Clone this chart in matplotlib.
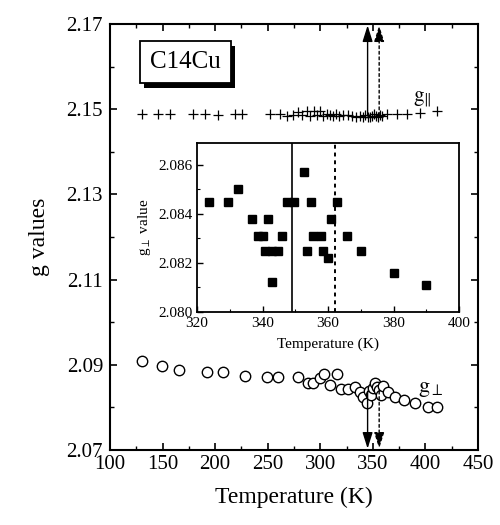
import matplotlib
matplotlib.use("Agg")
import matplotlib.pyplot as plt
import matplotlib.patheffects as pe

plt.rcParams['font.family'] = ['Liberation Serif', 'DejaVu Serif']
plt.rcParams['mathtext.fontset'] = 'stix'

# g parallel (crosses)
t_par = [130, 146, 157, 179, 190, 203, 219, 226, 252, 262, 268, 274, 279, 283,
         287, 290, 294, 297, 300, 303, 306, 309, 312, 315, 318, 322, 326, 330,
         334, 338, 341, 343, 345, 347, 349, 351, 353, 355, 357, 359, 363, 373,
         382, 395, 411]
g_par = [2.1490, 2.1488, 2.1488, 2.1488, 2.1488, 2.1487, 2.1488, 2.1488, 2.1490,
         2.1488, 2.1485, 2.1487, 2.1494, 2.1486, 2.1495, 2.1485, 2.1496, 2.1487,
         2.1495, 2.1484, 2.1488, 2.1486, 2.1485, 2.1488, 2.1484, 2.1486, 2.1487,
         2.1485, 2.1483, 2.1484, 2.1482, 2.1486, 2.1481, 2.1483, 2.1485, 2.1488,
         2.1484, 2.1482, 2.1486, 2.1484, 2.1488, 2.1489, 2.1488, 2.1491, 2.1497]

# g perpendicular (open circles)
t_perp = [130, 149, 166, 192, 207, 228, 249, 260, 279, 288, 293, 300, 304, 309,
          316, 320, 326, 333, 338, 341, 344, 346, 348, 350, 352, 354, 356, 358,
          360, 364, 371, 380, 390, 402, 411]
g_perp = [2.0910, 2.0898, 2.0888, 2.0884, 2.0884, 2.0874, 2.0872, 2.0872, 2.0872,
          2.0857, 2.0858, 2.0869, 2.0878, 2.0853, 2.0878, 2.0843, 2.0843, 2.0848,
          2.0836, 2.0825, 2.0811, 2.0838, 2.0830, 2.0845, 2.0857, 2.0848, 2.0840,
          2.0830, 2.0850, 2.0836, 2.0825, 2.0818, 2.0811, 2.0800, 2.0800]

# inset: g perpendicular near transition
t_ins = [323.7, 329.6, 332.6, 336.7, 341.6, 338.7, 340.2, 345.9, 340.8, 342.8,
         344.8, 342.9, 347.4, 349.6, 352.7, 354.7, 353.7, 355.5, 358.0, 358.6,
         360.1, 360.8, 362.8, 365.9, 370.0, 380.0, 390.0]
g_ins = [2.0845, 2.0845, 2.0850, 2.0838, 2.0838, 2.0831, 2.0831, 2.0831, 2.0825,
         2.0825, 2.0825, 2.0812, 2.0845, 2.0845, 2.0857, 2.0845, 2.0825, 2.0831,
         2.0831, 2.0825, 2.0822, 2.0838, 2.0845, 2.0831, 2.0825, 2.0816, 2.0811]

t_solid = 345
t_dash = 356
t_solid_ins = 349
t_dash_ins = 362

fig = plt.figure(figsize=(5.0, 5.25), dpi=100)
ax = fig.add_axes([0.22, 0.143, 0.736, 0.811])

ax.plot(t_par, g_par, ls='none', marker='+', ms=7, mew=0.9, color='black')
ax.plot(t_perp, g_perp, ls='none', marker='o', ms=7.5, mew=1.0,
        mfc='white', mec='black')

# arrows: up from the g-parallel branch, down from the g-perp branch
head = '-|>,head_length=0.7,head_width=0.22'
for t, ls in [(t_solid, '-'), (t_dash, (0, (2, 2)))]:
    ax.annotate('', xy=(t, 2.1697), xytext=(t, 2.1486),
                arrowprops=dict(arrowstyle=head, lw=1.0, ls=ls, color='black',
                                mutation_scale=14, shrinkA=0, shrinkB=0))
    ax.annotate('', xy=(t, 2.0703), xytext=(t, 2.0838),
                arrowprops=dict(arrowstyle=head, lw=1.0, ls=ls, color='black',
                                mutation_scale=14, shrinkA=0, shrinkB=0))

ax.set_xlim(100, 450)
ax.set_ylim(2.07, 2.17)
ax.set_xticks([100, 150, 200, 250, 300, 350, 400, 450])
ax.set_yticks([2.07, 2.09, 2.11, 2.13, 2.15, 2.17])
ax.set_xticks([125, 175, 225, 275, 325, 375, 425], minor=True)
ax.set_yticks([2.08, 2.10, 2.12, 2.14, 2.16], minor=True)
ax.tick_params(which='both', direction='in', top=True, right=True, labelsize=15)
ax.tick_params(axis='x', pad=4)
ax.tick_params(axis='y', pad=5)
ax.tick_params(which='major', length=5, width=1.2)
ax.tick_params(which='minor', length=3, width=1.0)
for s in ax.spines.values():
    s.set_linewidth(1.5)
ax.set_xlabel('Temperature (K)', fontsize=17, labelpad=9)
ax.set_ylabel('g values', fontsize=17, labelpad=12)

ax.text(397, 2.1524, r'$\mathrm{g}_{\Vert}$', fontsize=15, ha='center', va='center')
ax.text(405, 2.0841, r'$\mathrm{g}_{\perp}$', fontsize=16, ha='center', va='center')

# label box with a drop shadow
lab = ax.text(172, 2.161, 'C14Cu', fontsize=18, ha='center', va='center',
              bbox=dict(boxstyle='square,pad=0.4', fc='white', ec='black', lw=1.3))
lab.get_bbox_patch().set_path_effects([
    pe.SimplePatchShadow(offset=(3, -3), shadow_rgbFace='black', alpha=1.0),
    pe.Normal()])

# inset
ins = fig.add_axes([0.394, 0.406, 0.524, 0.322])
ins.plot(t_ins, g_ins, ls='none', marker='s', ms=6, color='black')
ins.axvline(t_solid_ins, color='black', lw=1.2)
ins.axvline(t_dash_ins, color='black', lw=1.4, ls=(0, (2, 2)))
ins.set_xlim(320, 400)
ins.set_ylim(2.080, 2.0869)
ins.set_xticks([320, 340, 360, 380, 400])
ins.set_xticks([330, 350, 370, 390], minor=True)
ins.set_yticks([2.080, 2.082, 2.084, 2.086])
ins.set_yticks([2.081, 2.083, 2.085], minor=True)
ins.yaxis.set_major_formatter(matplotlib.ticker.FormatStrFormatter('%.3f'))
ins.tick_params(which='both', direction='in', labelsize=11)
ins.tick_params(axis='x', pad=4)
ins.tick_params(axis='y', pad=3)
ins.tick_params(which='major', length=4, width=1.0)
ins.tick_params(which='minor', length=2, width=0.8)
for s in ins.spines.values():
    s.set_linewidth(1.3)
ins.set_xlabel('Temperature (K)', fontsize=11, labelpad=5)
ins.set_ylabel(r'g$_{\perp}$ value', fontsize=11, labelpad=4)

fig.savefig('out.png', dpi=100)
